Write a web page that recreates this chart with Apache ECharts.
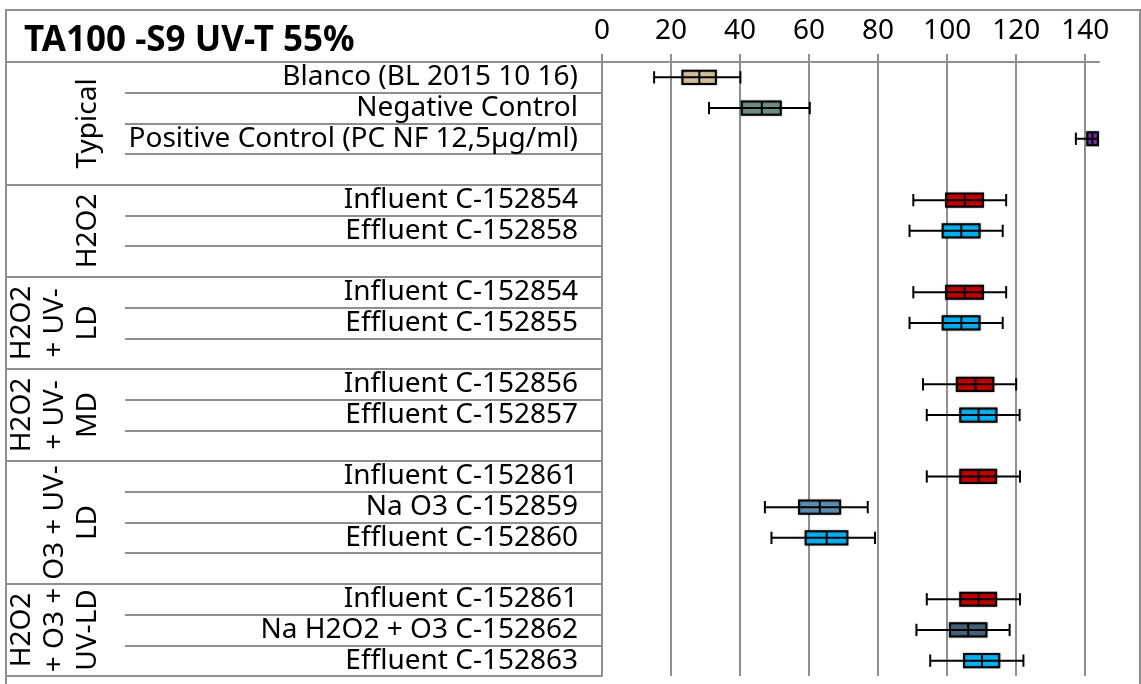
<!DOCTYPE html>
<html>
<head>
<meta charset="utf-8">
<script src="https://cdn.jsdelivr.net/npm/echarts@6/dist/echarts.min.js"></script>
<style>
html,body{margin:0;padding:0;background:#fff;}
#c{width:1141px;height:684px;}
</style>
</head>
<body>
<div id="c"></div>
<script>
// ---------- data ----------
const chartTitle = 'TA100 -S9 UV-T 55%';
const xTicks = [0, 20, 40, 60, 80, 100, 120, 140];
const groupNames = ['Typical', 'H2O2', 'H2O2\n+ UV-\nLD', 'H2O2\n+ UV-\nMD', 'O3 + UV-\nLD', 'H2O2\n+ O3 +\nUV-LD'];
const rowLabels = [
  'Blanco (BL 2015 10 16)', 'Negative Control', 'Positive Control (PC NF 12,5µg/ml)', '',
  'Influent C-152854', 'Effluent C-152858', '',
  'Influent C-152854', 'Effluent C-152855', '',
  'Influent C-152856', 'Effluent C-152857', '',
  'Influent C-152861', 'Na O3 C-152859', 'Effluent C-152860', '',
  'Influent C-152861', 'Na H2O2 + O3 C-152862', 'Effluent C-152863'
];
const rowGroup = [0,0,0,0, 1,1,1, 2,2,2, 3,3,3, 4,4,4,4, 5,5,5];
const whiskerMin = [15.1, 31.0, 137.3, null, 90.2, 89.1, null, 90.2, 89.1, null, 93.0, 94.1, null, 94.1, 47.2, 49.1, null, 94.1, 91.1, 95.1];
const q1         = [23.3, 40.5, 140.6, null, 99.7, 98.7, null, 99.7, 98.7, null, 102.8, 103.8, null, 103.8, 57.1, 59.0, null, 103.8, 100.8, 104.9];
const median     = [28.2, 46.3, 142.1, null, 105.1, 104.1, null, 105.1, 104.1, null, 108.2, 109.1, null, 109.1, 63.1, 65.1, null, 109.1, 106.1, 110.1];
const q3         = [33.0, 51.8, 143.7, null, 110.4, 109.4, null, 110.4, 109.4, null, 113.4, 114.3, null, 114.2, 69.0, 71.1, null, 114.2, 111.4, 115.1];
const whiskerMax = [40.1, 60.2, 143.7, null, 117.1, 116.1, null, 117.1, 116.1, null, 120.0, 121.0, null, 121.1, 77.0, 79.1, null, 121.1, 118.1, 122.1];

// ---------- styles ----------
const FONT = 'Noto Sans';
const gridColor = '#8f8f8f';
function boxColor(label) {
  if (label.startsWith('Blanco')) return '#D4BD9B';
  if (label.startsWith('Negative')) return '#6C9080';
  if (label.startsWith('Positive')) return '#7030A0';
  if (label.startsWith('Influent')) return '#C00000';
  if (label.startsWith('Effluent')) return '#00B0F0';
  if (label.startsWith('Na O3')) return '#5E8BAF';
  return '#44627A';
}

const seriesData = [];
rowLabels.forEach(function (lab, i) {
  if (whiskerMin[i] != null) {
    seriesData.push([i, whiskerMin[i], q1[i], median[i], q3[i], whiskerMax[i]]);
  }
});

const chart = echarts.init(document.getElementById('c'), null, {renderer: 'canvas'});

const option = {
  animation: false,
  backgroundColor: '#fff',
  grid: {left: 602, right: 42, top: 62, bottom: 8, containLabel: false},
  xAxis: {
    type: 'value', position: 'top', min: 0, max: 144, interval: 20,
    axisLine: {show: true, lineStyle: {color: gridColor, width: 2}},
    axisTick: {show: true, length: 8, lineStyle: {color: gridColor, width: 2}, customValues: xTicks},
    axisLabel: {fontSize: 28, fontFamily: FONT, color: '#000', margin: 17, customValues: xTicks},
    splitLine: {show: true, lineStyle: {color: gridColor, width: 2}}
  },
  yAxis: [
    {
      type: 'category', data: rowLabels, inverse: true, position: 'left',
      axisLine: {show: true, lineStyle: {color: gridColor, width: 2}},
      axisTick: {show: true, length: 477, interval: 0, lineStyle: {color: gridColor, width: 2}},
      axisLabel: {fontSize: 28, fontFamily: FONT, color: '#000', margin: 24, interval: 0},
      splitLine: {show: false}
    },
    {
      type: 'category', data: rowLabels, inverse: true, position: 'left',
      axisLine: {show: false},
      axisTick: {show: true, length: 596,
        interval: function (i) { return i === 0 || rowGroup[i] !== rowGroup[i - 1]; },
        lineStyle: {color: gridColor, width: 2}},
      axisLabel: {show: false},
      splitLine: {show: false}
    }
  ],
  series: [{
    type: 'custom',
    coordinateSystem: 'cartesian2d',
    xAxisIndex: 0, yAxisIndex: 0,
    encode: {x: [1, 2, 3, 4, 5], y: 0},
    data: seriesData,
    renderItem: function (params, api) {
      const i = api.value(0);
      const yC = api.coord([0, i])[1];
      const band = api.size([0, 1])[1];
      const hb = band * 0.215, hc = band * 0.2;
      const px = function (v) { return api.coord([v, i])[0]; };
      const xMin = px(api.value(1)), xQ1 = px(api.value(2)), xMed = px(api.value(3)),
            xQ3 = px(api.value(4)), xMax = px(api.value(5));
      const ls = {stroke: '#000', lineWidth: 2};
      return {
        type: 'group',
        children: [
          {type: 'rect', shape: {x: xQ1, y: yC - hb, width: xQ3 - xQ1, height: 2 * hb},
           style: {fill: boxColor(rowLabels[i]), stroke: '#000', lineWidth: 2, shadowColor: 'rgba(0,0,0,0.35)', shadowBlur: 2}},
          {type: 'line', shape: {x1: xMin, y1: yC, x2: xMax, y2: yC}, style: ls},
          {type: 'line', shape: {x1: xMed, y1: yC - hb, x2: xMed, y2: yC + hb}, style: ls},
          {type: 'line', shape: {x1: xMin, y1: yC - hc, x2: xMin, y2: yC + hc}, style: ls},
          {type: 'line', shape: {x1: xMax, y1: yC - hc, x2: xMax, y2: yC + hc}, style: ls}
        ]
      };
    }
  }]
};
chart.setOption(option);

// ---------- table decorations: border, title, rotated group labels ----------
const graphics = [
  {type: 'rect', shape: {x: 6, y: 10, width: 1134, height: 700},
   style: {fill: 'none', stroke: gridColor, lineWidth: 2}, silent: true},
  {type: 'text', x: 24, y: 41,
   style: {text: chartTitle, font: 'bold 35px "' + FONT + '"', fill: '#000',
           align: 'left', verticalAlign: 'middle', textAlign: 'left', textVerticalAlign: 'middle'}}
];
groupNames.forEach(function (g, gi) {
  const rows = [];
  rowGroup.forEach(function (v, i) { if (v === gi) rows.push(i); });
  const yA = chart.convertToPixel({yAxisIndex: 0}, rows[0]);
  const yB = chart.convertToPixel({yAxisIndex: 0}, rows[rows.length - 1]);
  graphics.push({
    type: 'text', x: 105, y: (yA + yB) / 2, rotation: Math.PI / 2,
    style: {text: g, font: '28px "' + FONT + '"', fill: '#000', lineHeight: 33,
            align: 'center', verticalAlign: 'bottom', textAlign: 'center', textVerticalAlign: 'bottom'}
  });
});
chart.setOption({graphic: {elements: graphics}});
</script>
</body>
</html>
